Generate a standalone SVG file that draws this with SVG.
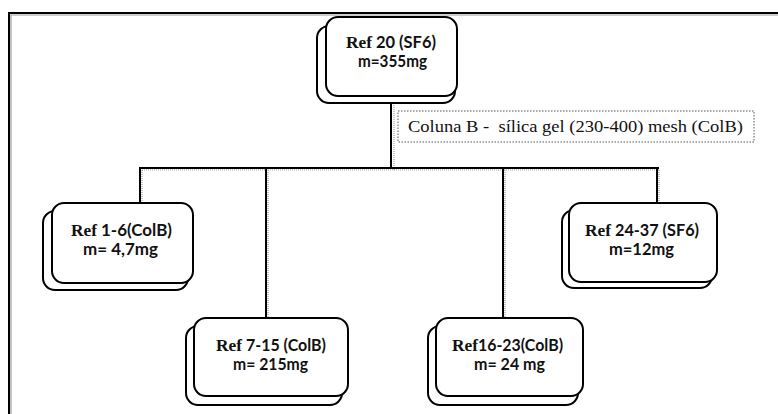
<svg xmlns="http://www.w3.org/2000/svg" width="778" height="414" viewBox="0 0 778 414">
<style>
.bg{fill:#fff}
.frame{fill:none;stroke:#000;stroke-width:2}
.fshadow{fill:none;stroke:#9a9a9a;stroke-width:1.2}
.box{fill:#fff;stroke:#000;stroke-width:2}
.sh{fill:#fff;stroke:#000;stroke-width:2}
.ln{fill:none;stroke:#000;stroke-width:2;stroke-linecap:square}
.lns{fill:none;stroke:#a0a0a0;stroke-width:1.2;stroke-dasharray:1 1}
.t{font-family:Lato,"Open Sans","Liberation Sans",sans-serif;font-weight:bold;font-size:17px;fill:#111}
.r{font-family:"Liberation Serif","Times New Roman",serif;font-weight:bold;font-size:17px;fill:#111}
.lbl{fill:#fff;stroke:#555;stroke-width:1;stroke-dasharray:1.5 1.5}
.lt{font-family:"Liberation Serif","Times New Roman",serif;font-size:16.5px;fill:#111}
</style>
<rect class="bg" x="0" y="0" width="778" height="414"/>
<g id="frame">
<path class="fshadow" d="M11,414 V15 H778"/>
<path class="frame" d="M9,414 V13 H778"/>
</g>
<g id="connectors">
<path class="lns" d="M394,105 V170 M142,170 H660 M142,170 V203 M268,170 V318 M505,170 V318 M659,170 V203"/>
<path class="ln" d="M391,103 V168 M140,168 H658 M140,168 V203 M266,168 V318 M503,168 V318 M657,168 V203"/>
<path class="ln" d="M386,103 H396 M498,168 H508 M261,168 H271"/>
</g>
<g id="label">
<rect class="lbl" x="398" y="111" width="356" height="31"/>
<text class="lt" x="408" y="132" textLength="335" lengthAdjust="spacingAndGlyphs" xml:space="preserve">Coluna B -  sílica gel (230-400) mesh (ColB)</text>
</g>
<g id="n20">
<rect class="sh" x="317" y="26" width="138" height="77" rx="12"/>
<rect class="box" x="326" y="17" width="131" height="79" rx="12"/>
<text class="r" x="346" y="48" textLength="26" lengthAdjust="spacingAndGlyphs">Ref</text>
<text class="t" x="376" y="48" textLength="60" lengthAdjust="spacingAndGlyphs">20 (SF6)</text>
<text class="t" x="358" y="67" textLength="69" lengthAdjust="spacingAndGlyphs">m=355mg</text>
</g>
<g id="n1">
<rect class="sh" x="43" y="211" width="145" height="79" rx="12"/>
<rect class="box" x="52" y="203" width="141" height="80" rx="12"/>
<text class="r" x="71" y="236" textLength="26" lengthAdjust="spacingAndGlyphs">Ref</text>
<text class="t" x="101" y="236" textLength="71" lengthAdjust="spacingAndGlyphs">1-6(ColB)</text>
<text class="t" x="83" y="255" textLength="75" lengthAdjust="spacingAndGlyphs">m= 4,7mg</text>
</g>
<g id="n24">
<rect class="sh" x="562" y="210" width="150" height="78" rx="12"/>
<rect class="box" x="569" y="203" width="148" height="79" rx="12"/>
<text class="r" x="585" y="236" textLength="26" lengthAdjust="spacingAndGlyphs">Ref</text>
<text class="t" x="615" y="236" textLength="84" lengthAdjust="spacingAndGlyphs">24-37 (SF6)</text>
<text class="t" x="609" y="255" textLength="65" lengthAdjust="spacingAndGlyphs">m=12mg</text>
</g>
<g id="n7">
<rect class="sh" x="186" y="326" width="156" height="79" rx="12"/>
<rect class="box" x="194" y="318" width="154" height="78" rx="12"/>
<text class="r" x="216" y="351" textLength="26" lengthAdjust="spacingAndGlyphs">Ref</text>
<text class="t" x="246" y="351" textLength="80" lengthAdjust="spacingAndGlyphs">7-15 (ColB)</text>
<text class="t" x="233" y="370" textLength="75" lengthAdjust="spacingAndGlyphs">m= 215mg</text>
</g>
<g id="n16">
<rect class="sh" x="428" y="326" width="150" height="79" rx="12"/>
<rect class="box" x="436" y="318" width="147" height="78" rx="12"/>
<text class="r" x="452" y="351" textLength="26" lengthAdjust="spacingAndGlyphs">Ref</text>
<text class="t" x="478" y="351" textLength="85" lengthAdjust="spacingAndGlyphs">16-23(ColB)</text>
<text class="t" x="474" y="370" textLength="71" lengthAdjust="spacingAndGlyphs">m= 24 mg</text>
</g>
</svg>
